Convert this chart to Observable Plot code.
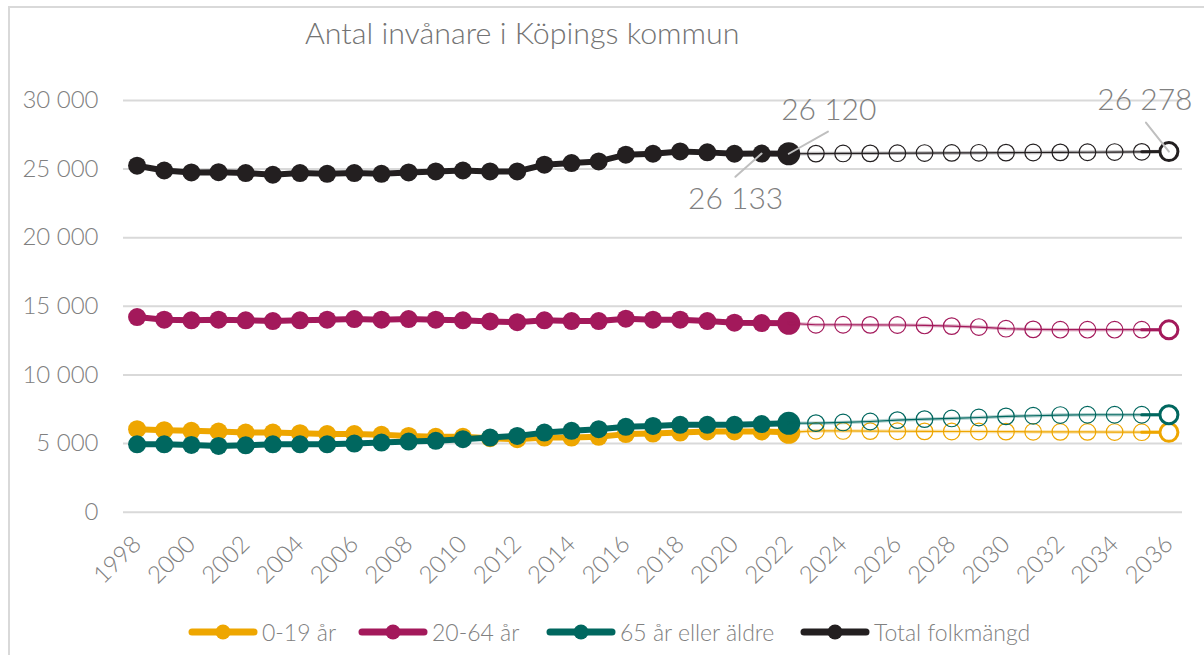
<!DOCTYPE html>
<html><head><meta charset="utf-8">
<script src="https://cdn.jsdelivr.net/npm/d3@7"></script>
<script src="https://cdn.jsdelivr.net/npm/@observablehq/plot@0.6"></script>
<style>
body{margin:0;background:#fff;}
#wrap{position:relative;width:1204px;height:655px;overflow:hidden;font-family:Lato,"Open Sans",sans-serif;font-weight:300;background:#fff;}
#frame{position:absolute;left:8px;top:6px;width:1400px;height:900px;border:2px solid #d9d9d9;box-sizing:border-box;}
#title{position:absolute;left:305px;top:14px;font-size:30.4px;color:#737373;line-height:36px;white-space:nowrap;}
#chart{position:absolute;left:0;top:0;}
.leg{position:absolute;top:617px;height:30px;display:flex;align-items:center;font-size:23px;color:#808080;white-space:nowrap;}
.leg svg{margin-right:4px;}
</style></head>
<body>
<div id="wrap">
  <div id="frame"></div>
  <div id="chart"></div>
  <div id="title">Antal invånare i Köpings kommun</div>
</div>
<script>
const years = [1998,1999,2000,2001,2002,2003,2004,2005,2006,2007,2008,2009,2010,2011,2012,2013,2014,2015,2016,2017,2018,2019,2020,2021,2022,2023,2024,2025,2026,2027,2028,2029,2030,2031,2032,2033,2034,2035,2036];
const young   = [6050,5980,5930,5880,5800,5800,5760,5690,5690,5640,5560,5490,5490,5390,5320,5440,5440,5490,5690,5730,5800,5880,5880,5880,5820,5930,5920,5910,5900,5890,5880,5880,5870,5860,5850,5850,5840,5830,5820];
const adults  = [14220,14030,13980,14030,13980,13930,13980,14030,14070,14030,14070,14030,13980,13900,13850,13980,13930,13930,14100,14030,14030,13930,13810,13780,13760,13660,13660,13650,13640,13610,13560,13490,13370,13320,13300,13300,13300,13300,13290];
const seniors = [4950,4950,4900,4830,4870,4950,4950,4950,5000,5070,5150,5200,5320,5440,5560,5800,5930,6050,6220,6290,6370,6370,6370,6420,6480,6490,6540,6610,6710,6780,6830,6900,6980,7030,7080,7100,7100,7100,7100];
const total   = [25250,24900,24760,24780,24710,24590,24710,24660,24710,24660,24760,24830,24900,24830,24830,25320,25440,25560,26050,26120,26290,26220,26120,26133,26120,26130,26140,26150,26160,26170,26180,26190,26200,26210,26220,26230,26245,26260,26278];
const seriesNames  = ["0-19 år","20-64 år","65 år eller äldre","Total folkmängd"];
const seriesValues = [young, adults, seniors, total];
const seriesColors = ["#EEA600","#A3195B","#00675F","#231F20"];
const lastObserved = 2022;
const yTicks = [0,5000,10000,15000,20000,25000,30000];
const xTicks = years.filter(y => y % 2 === 0);
const labelYears = [2022, 2021, 2036];

const fmt = v => d3.format(",")(v).replace(/,/g, "\u00a0");
const firstYear = years[0], finalYear = years[years.length - 1];

const series = seriesNames.map((name, i) => ({
  name, color: seriesColors[i],
  rows: years.map((year, j) => ({year, value: seriesValues[i][j], series: name}))
}));

const line = {draw(ctx, l) { ctx.moveTo(0, 0); ctx.lineTo(0, -l); }};

const marks = [
  Plot.ruleY(yTicks, {stroke: "#d9d9d9", strokeWidth: 2}),
  Plot.axisY({ticks: yTicks, tickSize: 0, tickPadding: 25, tickFormat: fmt, fontSize: 24, label: null}),
  Plot.axisX({ticks: xTicks, tickFormat: d => String(d), tickRotate: -45, tickSize: 0, tickPadding: 28, fontSize: 24, label: null})
];

for (const s of series) {
  const hist = s.rows.filter(d => d.year <= lastObserved);
  const proj = s.rows.filter(d => d.year >= lastObserved);
  const c = s.color;
  marks.push(
    Plot.line(hist, {x: "year", y: "value", stroke: c, strokeWidth: 6}),
    Plot.dot(hist.filter(d => d.year < lastObserved), {x: "year", y: "value", r: 9, fill: c}),
    Plot.dot(hist.filter(d => d.year === lastObserved), {x: "year", y: "value", r: 11.5, fill: c}),
    Plot.line(proj, {x: "year", y: "value", stroke: c, strokeWidth: 3.5, strokeOpacity: 0.3}),
    Plot.line(proj, {x: "year", y: "value", stroke: c, strokeWidth: 1.2}),
    Plot.line(proj.filter(d => d.year >= finalYear - 1), {x: "year", y: "value", stroke: c, strokeWidth: 3}),
    Plot.dot(proj.filter(d => d.year > lastObserved && d.year < finalYear), {x: "year", y: "value", r: 8.3, stroke: c, strokeWidth: 1.2, fill: "none"}),
    Plot.dot(proj.filter(d => d.year === finalYear), {x: "year", y: "value", r: 9, stroke: c, strokeWidth: 3, fill: "white"})
  );
}

// annotations on the total series
const totalRows = series[3].rows;
const ann = y => totalRows.filter(d => d.year === y);
const annStyle = [
  {dx: 40, dy: -43, length: 45, rotate: 60.6},
  {dx: -26, dy: 46, length: 35, rotate: 228.5},
  {dx: -24, dy: -51, length: 37, rotate: 321.6}
];
labelYears.forEach((y, i) => {
  const st = annStyle[i];
  marks.push(
    Plot.vector(ann(y), {x: "year", y: "value", length: st.length, rotate: st.rotate, anchor: "start", shape: line, stroke: "#bfbfbf", strokeWidth: 2}),
    Plot.text(ann(y), {x: "year", y: "value", text: d => fmt(d.value), dx: st.dx, dy: st.dy, fontSize: 30, fill: "#808080"})
  );
});

const chart = Plot.plot({
  width: 1204, height: 655,
  marginLeft: 123, marginRight: 22, marginTop: 100, marginBottom: 143.3,
  x: {domain: [firstYear - 0.5, finalYear + 0.5], label: null},
  y: {domain: [0, 30000], label: null},
  style: {fontFamily: "Lato, 'Open Sans', sans-serif", fontWeight: 300, fontSize: "24px", color: "#808080", background: "transparent", overflow: "visible"},
  marks
});
document.getElementById("chart").appendChild(chart);

// legend
const legLeft = [188, 358, 546, 800];
series.forEach((s, i) => {
  const div = document.createElement("div");
  div.className = "leg";
  div.style.left = legLeft[i] + "px";
  div.innerHTML = `<svg width="70" height="18"><line x1="4" y1="9" x2="66" y2="9" stroke="${s.color}" stroke-width="7" stroke-linecap="round"/><circle cx="35" cy="9" r="7.5" fill="${s.color}"/></svg><span>${s.name}</span>`;
  document.getElementById("wrap").appendChild(div);
});
</script>
</body></html>
